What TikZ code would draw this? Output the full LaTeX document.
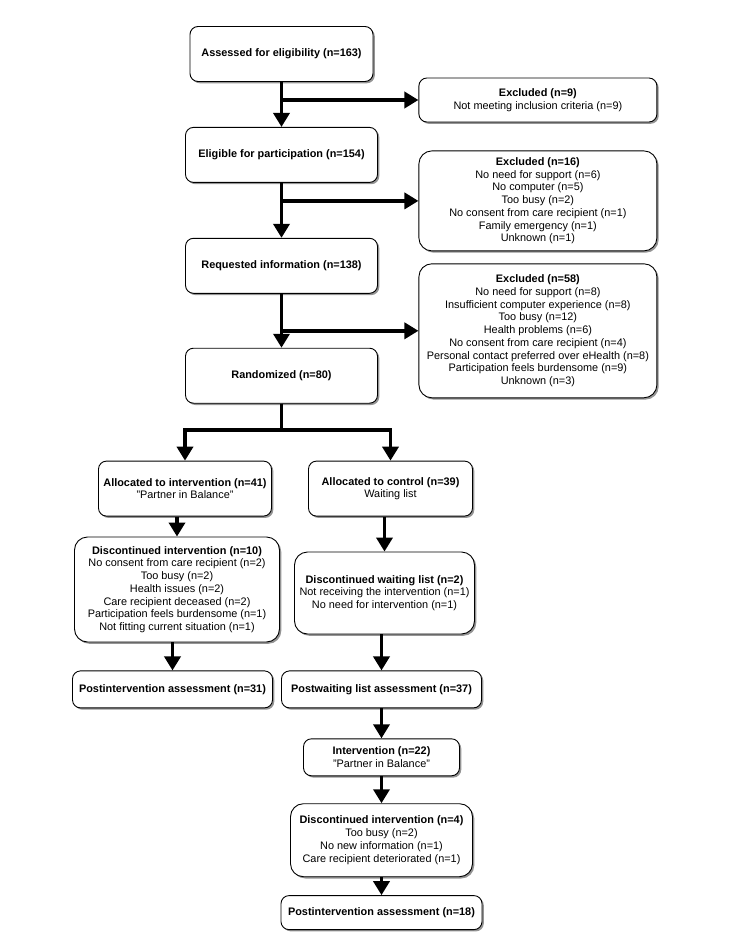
\documentclass[tikz,border=0pt]{standalone}
\usepackage{fontspec}
\setmainfont{Liberation Sans}
\usetikzlibrary{positioning,arrows.meta,shadows}
\tikzset{every node/.style={align=center}, >={Triangle[length=14pt,width=16pt]}, font=\fontsize{10.9}{12.75}\selectfont}

\begin{document}
\begin{tikzpicture}[box/.style={draw, line width=0.9pt, rounded corners=8pt, fill=white,
      drop shadow={shadow xshift=1.8pt, shadow yshift=-1.8pt, fill=black!70, opacity=0.6}},
    arm/.style={->, line width=3.8pt}]
             \useasboundingbox (-281.5pt,54pt) rectangle (449.5pt,-896pt);
             \node [box, minimum width=183pt, minimum height=55pt] (s0) {\textbf{Assessed for eligibility (n=163)}};
             \node [box, minimum width=192pt, minimum height=55pt] (s1) [below=45pt of s0] {\textbf{Eligible for participation (n=154)}};
             \node [box, minimum width=192pt, minimum height=55pt] (s2) [below=55pt of s1] {\textbf{Requested information (n=138)}};
             \node [box, minimum width=192pt, minimum height=55pt] (s3) [below=54pt of s2] {\textbf{Randomized (n=80)}};

             \node [box, minimum width=238pt, minimum height=44pt] (e1) [right=45pt of s0, yshift=-46pt] {\textbf{Excluded (n=9)}\\Not meeting inclusion criteria (n=9)};
             \node [box, rounded corners=13pt, minimum width=238pt, minimum height=100pt] (e2) [below=28pt of e1] {\textbf{Excluded (n=16)}\\No need for support (n=6)\\No computer (n=5)\\Too busy (n=2)\\No consent from care recipient (n=1)\\Family emergency (n=1)\\Unknown (n=1)};
             \node [box, rounded corners=13pt, minimum width=238pt, minimum height=134pt] (e3) [below=12pt of e2] {\textbf{Excluded (n=58)}\\No need for support (n=8)\\Insufficient computer experience (n=8)\\Too busy (n=12)\\Health problems (n=6)\\No consent from care recipient (n=4)\\Personal contact preferred over eHealth (n=8)\\Participation feels burdensome (n=9)\\Unknown (n=3)};

             \node [box, minimum width=173pt, minimum height=55pt] (a1) [below=57pt of s3, xshift=-96.5pt] {\textbf{Allocated to intervention (n=41)}\\"Partner in Balance"};
             \node [box, minimum width=164pt, minimum height=55pt] (a2) [below=57pt of s3, xshift=109pt] {\textbf{Allocated to control (n=39)}\\Waiting list};
             \node [box, rounded corners=13pt, minimum width=205pt, minimum height=105pt] (d1) [below=20pt of a1, xshift=-8pt] {\textbf{Discontinued intervention (n=10)}\\No consent from care recipient (n=2)\\Too busy (n=2)\\Health issues (n=2)\\Care recipient deceased (n=2)\\Participation feels burdensome (n=1)\\Not fitting current situation (n=1)};
             \node [box, rounded corners=13pt, minimum width=180pt, minimum height=82pt] (d2) [below=35pt of a2, xshift=-6pt] {\textbf{Discontinued waiting list (n=2)}\\Not receiving the intervention (n=1)\\No need for intervention (n=1)};
             \node [box, minimum width=200pt, minimum height=37pt] (p1) [below=28pt of d1, xshift=-4.5pt] {\textbf{Postintervention assessment (n=31)}};
             \node [box, minimum width=200pt, minimum height=37pt] (p2) [below=36pt of d2, xshift=-3pt] {\textbf{Postwaiting list assessment (n=37)}};
             \node [box, minimum width=156pt, minimum height=37pt] (i1) [below=30pt of p2] {\textbf{Intervention (n=22)}\\"Partner in Balance"};
             \node [box, rounded corners=13pt, minimum width=182pt, minimum height=73pt] (d3) [below=27pt of i1] {\textbf{Discontinued intervention (n=4)}\\Too busy (n=2)\\No new information (n=1)\\Care recipient deteriorated (n=1)};
             \node [box, minimum width=201pt, minimum height=34pt] (p3) [below=18pt of d3] {\textbf{Postintervention assessment (n=18)}};

             \path[arm] (s0) edge (s1)
                (s1) edge (s2)
                (s2) edge (s3)
                (p2) edge (i1)
                (i1) edge (d3)
                (d3) edge (p3);
             \draw[arm] (s0.south |- e1.west) -- (e1.west);
             \draw[arm] (s1.south |- e2.west) -- (e2.west);
             \draw[arm] (s2.south |- e3.west) -- (e3.west);
             \draw[arm] (s3.south) -- ++(0,-26pt) -| (a1.north);
             \draw[arm] (s3.south) -- ++(0,-26pt) -| (a2.north);
             \draw[arm] (a1.south -| d1.north) -- (d1.north);
             \draw[arm] (d1.south -| p1.north) -- (p1.north);
             \draw[arm] (a2.south -| d2.north) -- (d2.north);
             \draw[arm] (d2.south -| p2.north) -- (p2.north);
         \end{tikzpicture}
\end{document}
